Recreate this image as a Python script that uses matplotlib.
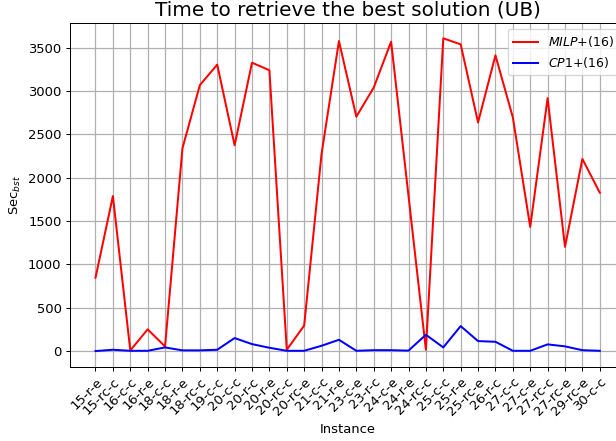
import matplotlib
matplotlib.use('Agg')
import matplotlib.pyplot as plt

instances = ['15-r-e', '15-rc-c', '16-c-c', '16-r-e', '18-c-c', '18-r-e', '18-rc-c',
             '19-c-c', '20-c-c', '20-r-c', '20-r-e', '20-rc-c', '20-rc-e', '21-c-c',
             '21-r-e', '23-c-e', '23-r-c', '24-c-e', '24-r-e', '24-rc-c', '25-c-c',
             '25-r-e', '25-rc-e', '26-r-c', '27-c-c', '27-c-e', '27-rc-c', '27-rc-e',
             '29-rc-e', '30-c-c']

# seconds to best solution
milp = [846, 1788, 7, 250, 53, 2339, 3068, 3305, 2374, 3327, 3240, 15, 294, 2275,
        3577, 2704, 3040, 3569, 1790, 15, 3608, 3539, 2638, 3412, 2696, 1432, 2918,
        1202, 2217, 1827]
cp1 = [0, 15, 3, 3, 42, 8, 8, 15, 150, 80, 38, 3, 3, 61, 130, 3, 10, 10, 5, 188,
       42, 288, 115, 107, 3, 3, 77, 54, 10, 3]

dpi = 90
fig = plt.figure(figsize=(616 / dpi, 441 / dpi), dpi=dpi)
ax = fig.add_axes([0.1141, 0.1685, 0.9005, 0.78])

ax.plot(instances, milp, color='red', lw=1.6, label=r'$MILP$+(16)')
ax.plot(instances, cp1, color='blue', lw=1.6, label=r'$CP1$+(16)')

ax.set_title('Time to retrieve the best solution (UB)', fontsize=16)
ax.set_xlabel('Instance', fontsize=10.5)
ax.set_ylabel(r'Sec$_{bst}$', fontsize=10.5)
ax.tick_params(axis='both', labelsize=10.5)
plt.setp(ax.get_xticklabels(), rotation=45, ha='right', rotation_mode='anchor')
ax.grid(True, color='#b0b0b0', lw=1)
ax.legend(loc='upper right')

fig.savefig('out.png', dpi=dpi)
